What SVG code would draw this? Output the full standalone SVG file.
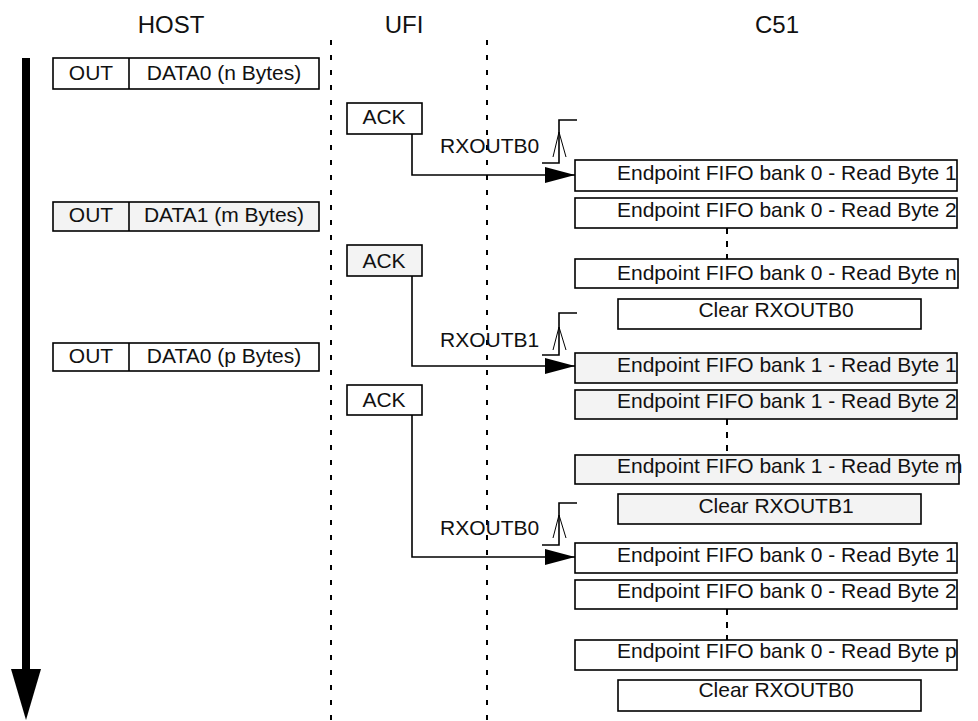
<svg xmlns="http://www.w3.org/2000/svg" width="978" height="721" viewBox="0 0 978 721">
<style>
text{font-family:"Liberation Sans",Arial,sans-serif;font-size:21px;fill:#111}
.title{font-size:24px;text-anchor:middle}
.c{text-anchor:middle}
.box{fill:#fff;stroke:#000;stroke-width:1.6}
.g{fill:#f3f3f3}
.life{stroke:#000;stroke-width:2;stroke-dasharray:5 10;fill:none}
.dots{stroke:#000;stroke-width:2;stroke-dasharray:6 7;fill:none}
.conn{stroke:#000;stroke-width:1.6;fill:none}
.thin{stroke:#000;stroke-width:1;fill:none}
</style>
<defs>
<marker id="ah" markerUnits="userSpaceOnUse" markerWidth="30" markerHeight="16" refX="30" refY="8" orient="auto">
<path d="M0,0 L30,8 L0,16 z" fill="#000"/>
</marker>
</defs>
<g id="titles">
<text class="title" x="171" y="33">HOST</text>
<text class="title" x="404" y="33">UFI</text>
<text class="title" x="777" y="33">C51</text>
</g>
<g id="lifelines">
<line class="life" x1="331" y1="40" x2="331" y2="721"/>
<line class="life" x1="487" y1="40" x2="487" y2="721"/>
</g>
<g id="time-arrow">
<rect x="22" y="58" width="8" height="612" fill="#000"/>
<polygon points="11,669 41,669 26,720" fill="#000"/>
</g>
<g id="host1">
<rect class="box" x="53" y="58" width="266" height="31"/>
<line class="conn" x1="129" y1="58" x2="129" y2="89"/>
<text class="c" x="91" y="80">OUT</text>
<text class="c" x="224" y="80">DATA0 (n Bytes)</text>
</g>
<g id="host2">
<rect class="box g" x="53" y="202" width="266" height="29"/>
<line class="conn" x1="129" y1="202" x2="129" y2="231"/>
<text class="c" x="91" y="222">OUT</text>
<text class="c" x="224" y="222">DATA1 (m Bytes)</text>
</g>
<g id="host3">
<rect class="box" x="53" y="343" width="266" height="28"/>
<line class="conn" x1="129" y1="343" x2="129" y2="371"/>
<text class="c" x="91" y="363">OUT</text>
<text class="c" x="224" y="363">DATA0 (p Bytes)</text>
</g>
<g id="ack1">
<rect class="box" x="347" y="103" width="75" height="31"/>
<text class="c" x="384" y="124">ACK</text>
</g>
<g id="ack2">
<rect class="box g" x="347" y="245" width="75" height="31"/>
<text class="c" x="384" y="268">ACK</text>
</g>
<g id="ack3">
<rect class="box" x="347" y="385" width="75" height="30"/>
<text class="c" x="384" y="407">ACK</text>
</g>
<g id="connectors">
<path class="conn" d="M412,134 V175 H575" marker-end="url(#ah)"/>
<path class="conn" d="M412,276 V366 H575" marker-end="url(#ah)"/>
<path class="conn" d="M412,415 V557 H575" marker-end="url(#ah)"/>
<path class="conn" d="M577,120 H559 V163 H542"/>
<path class="thin" d="M553,157 L559,132 L566,157"/>
<path class="conn" d="M577,313 H559 V355 H542"/>
<path class="thin" d="M553,350 L559,327 L566,350"/>
<path class="conn" d="M577,503 H559 V545 H542"/>
<path class="thin" d="M553,538 L559,515 L566,538"/>
<line class="dots" x1="727" y1="228" x2="727" y2="259"/>
<line class="dots" x1="727" y1="419" x2="727" y2="455"/>
<line class="dots" x1="727" y1="609" x2="727" y2="640"/>
</g>
<g id="labels">
<text x="440" y="153">RXOUTB0</text>
<text x="440" y="347">RXOUTB1</text>
<text x="440" y="535">RXOUTB0</text>
</g>
<g id="s1-b1"><rect class="box" x="575" y="160" width="382" height="31"/><text x="617" y="180">Endpoint FIFO bank 0 - Read Byte 1</text></g>
<g id="s1-b2"><rect class="box" x="575" y="198" width="382" height="30"/><text x="617" y="217">Endpoint FIFO bank 0 - Read Byte 2</text></g>
<g id="s1-bn"><rect class="box" x="575" y="259" width="383" height="29"/><text x="617" y="280">Endpoint FIFO bank 0 - Read Byte n</text></g>
<g id="s1-clr"><rect class="box" x="618" y="299" width="303" height="30"/><text class="c" x="776" y="317">Clear RXOUTB0</text></g>
<g id="s2-b1"><rect class="box g" x="575" y="353" width="382" height="30"/><text x="617" y="372">Endpoint FIFO bank 1 - Read Byte 1</text></g>
<g id="s2-b2"><rect class="box g" x="575" y="390" width="382" height="29"/><text x="617" y="408">Endpoint FIFO bank 1 - Read Byte 2</text></g>
<g id="s2-bm"><rect class="box g" x="575" y="455" width="384" height="29"/><text x="617" y="473">Endpoint FIFO bank 1 - Read Byte m</text></g>
<g id="s2-clr"><rect class="box g" x="618" y="494" width="303" height="30"/><text class="c" x="776" y="513">Clear RXOUTB1</text></g>
<g id="s3-b1"><rect class="box" x="575" y="543" width="382" height="30"/><text x="617" y="562">Endpoint FIFO bank 0 - Read Byte 1</text></g>
<g id="s3-b2"><rect class="box" x="575" y="580" width="382" height="29"/><text x="617" y="598">Endpoint FIFO bank 0 - Read Byte 2</text></g>
<g id="s3-bp"><rect class="box" x="575" y="640" width="382" height="30"/><text x="617" y="658">Endpoint FIFO bank 0 - Read Byte p</text></g>
<g id="s3-clr"><rect class="box" x="618" y="680" width="303" height="31"/><text class="c" x="776" y="697">Clear RXOUTB0</text></g>
</svg>
